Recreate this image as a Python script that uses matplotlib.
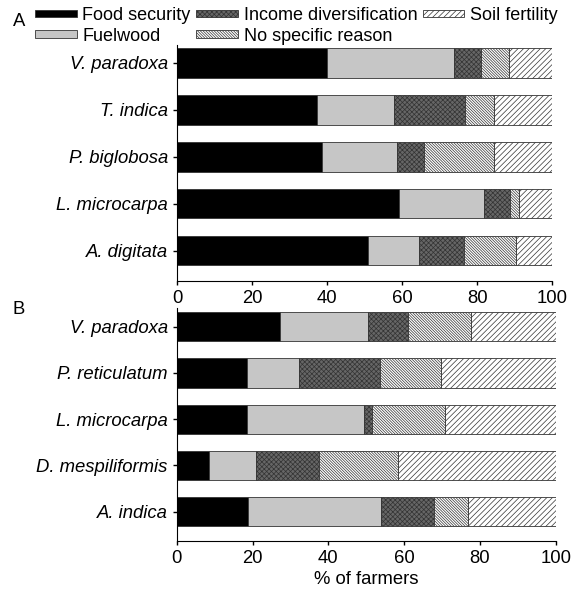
import matplotlib.pyplot as plt
import numpy as np

plt.rcParams['font.family'] = ['Liberation Sans', 'DejaVu Sans']
plt.rcParams['hatch.linewidth'] = 0.5

reasons = ['Food security', 'Fuelwood', 'Income diversification',
           'No specific reason', 'Soil fertility']

# panel A, bottom to top
species_a = ['A. digitata', 'L. microcarpa', 'P. biglobosa', 'T. indica', 'V. paradoxa']
food_a = [51.0, 59.2, 38.6, 37.4, 40.1]
fuel_a = [13.6, 22.6, 19.9, 20.3, 33.7]
income_a = [12.0, 6.9, 7.3, 19.0, 7.2]
nsr_a = [13.6, 2.5, 18.6, 7.7, 7.4]
soil_a = [9.8, 8.8, 15.6, 15.6, 11.6]

# panel B, bottom to top
species_b = ['A. indica', 'D. mespiliformis', 'L. microcarpa', 'P. reticulatum', 'V. paradoxa']
food_b = [18.8, 8.5, 18.5, 18.6, 27.3]
fuel_b = [35.2, 12.4, 30.9, 13.8, 23.2]
income_b = [13.8, 16.6, 2.0, 21.2, 10.5]
nsr_b = [9.1, 20.9, 19.5, 16.1, 16.7]
soil_b = [23.1, 41.6, 29.1, 30.3, 22.3]

faces = ['black', '#c6c6c6', '#666666', 'white', 'white']
hatches = [None, None, 'xxxxxxx', '\\' * 12, '//////']

fig = plt.figure(figsize=(5.81, 5.97), dpi=100)
W, H = 581, 597
axA = fig.add_axes([177 / W, 1 - 281 / H, (552.3 - 177) / W, (281 - 45) / H])
axB = fig.add_axes([176.7 / W, 1 - 540.7 / H, (555.7 - 176.7) / W, (540.7 - 308.3) / H])


def draw(ax, species, series, ylim):
    y = np.arange(len(species))
    left = np.zeros(len(species))
    bars = []
    for vals, fc, h, lab in zip(series, faces, hatches, reasons):
        b = ax.barh(y, vals, left=left, height=0.63, color=fc, hatch=h,
                    edgecolor='#333333', linewidth=0.6, label=lab)
        bars.append(b)
        left = left + np.array(vals)
    ax.set_yticks(y)
    ax.set_yticklabels(species, style='italic', fontsize=13.3)
    ax.set_xlim(0, 100)
    ax.set_ylim(*ylim)
    ax.set_xticks([0, 20, 40, 60, 80, 100])
    ax.tick_params(labelsize=13.3, length=3, width=1)
    ax.spines['top'].set_visible(False)
    ax.spines['right'].set_visible(False)
    return bars


bars = draw(axA, species_a, [food_a, fuel_a, income_a, nsr_a, soil_a], (-0.645, 4.377))
draw(axB, species_b, [food_b, fuel_b, income_b, nsr_b, soil_b], (-0.63, 4.40))
axB.set_xlabel('% of farmers', fontsize=13.3, labelpad=3)

fig.legend(bars, reasons, ncol=3, loc='upper left', bbox_to_anchor=(35 / W, 1 - 7 / H),
           frameon=False, fontsize=13, handlelength=2.3, handleheight=0.28,
           columnspacing=0.3, handletextpad=0.33, labelspacing=0.2,
           borderaxespad=0, borderpad=0)

fig.text(13 / W, 1 - 22 / H, 'A', fontsize=13.3, va='center')
fig.text(13 / W, 1 - 310 / H, 'B', fontsize=13.3, va='center')

fig.savefig('out.png', dpi=100)
